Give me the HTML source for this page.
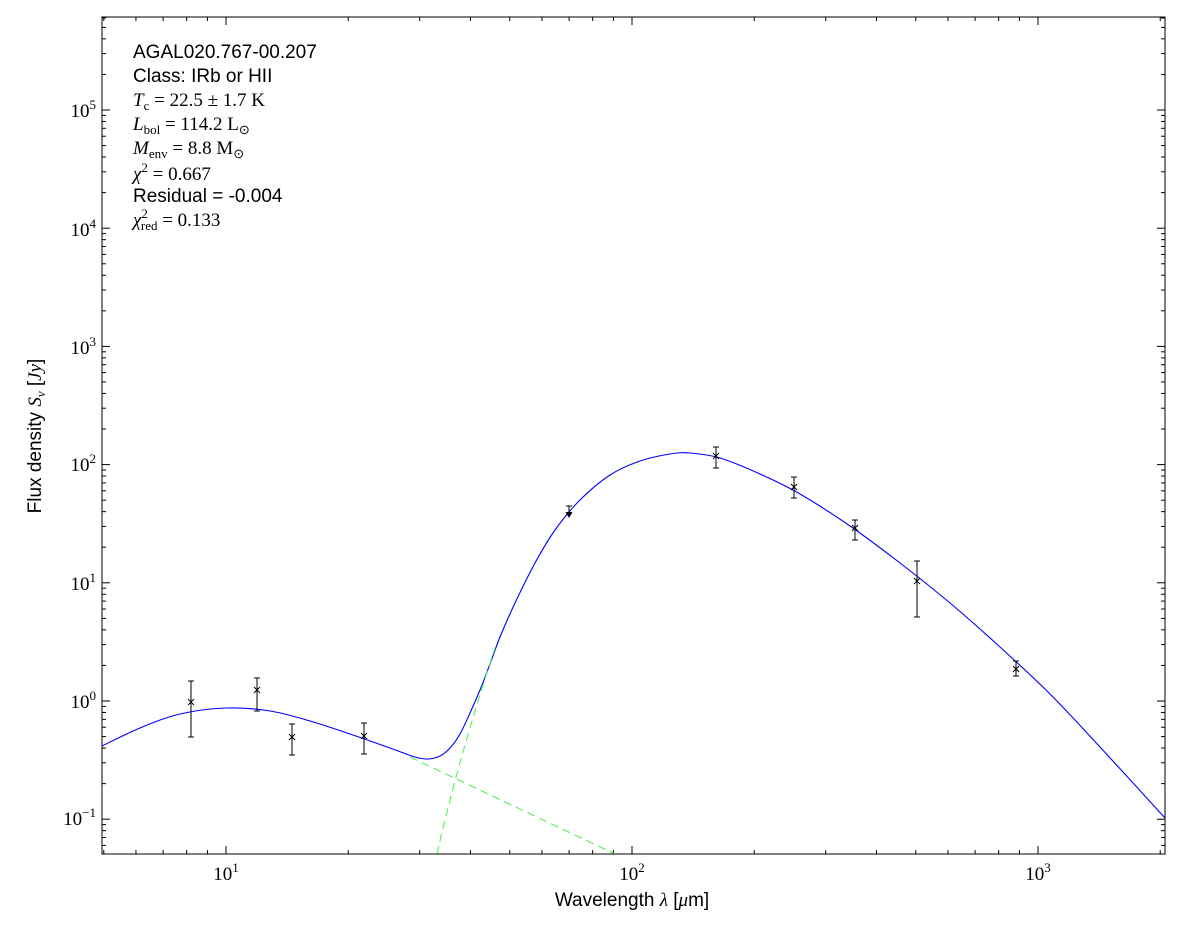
<!DOCTYPE html>
<html><head><meta charset="utf-8"><style>
body{margin:0;background:#fff;width:1200px;height:933px;overflow:hidden}
text{font-family:"Liberation Sans",sans-serif;fill:#000}
.s{font-family:"Liberation Serif",serif}
</style></head><body>
<svg id="c" width="1200" height="933" xmlns="http://www.w3.org/2000/svg">
<rect x="0" y="0" width="1200" height="933" fill="#fff"/>
<g id="ticks" stroke="#000" stroke-width="1"></g>
<path id="blue" fill="none" stroke="#0000ff" stroke-width="1.1"/>
<path d="M410,757 L615,854" stroke="#55ee55" stroke-width="1.1" stroke-dasharray="8,5" fill="none"/>
<path d="M437,854 Q458,760 495,648" stroke="#55ee55" stroke-width="1.1" stroke-dasharray="8,5" fill="none"/>
<g id="pts" stroke="#000" stroke-width="1" fill="none"></g>
<rect x="102" y="17" width="1063" height="837" fill="none" stroke="#000" stroke-width="1"/>
<g font-size="19">
<text x="226" y="880" class="s" text-anchor="middle">10<tspan dy="-8" font-size="13">1</tspan></text>
<text x="632" y="880" class="s" text-anchor="middle">10<tspan dy="-8" font-size="13">2</tspan></text>
<text x="1038" y="880" class="s" text-anchor="middle">10<tspan dy="-8" font-size="13">3</tspan></text>
</g>
<g font-size="19" class="s" text-anchor="end">
<text x="96" y="117" class="s">10<tspan dy="-8" font-size="13">5</tspan></text>
<text x="96" y="236" class="s">10<tspan dy="-8" font-size="13">4</tspan></text>
<text x="96" y="354" class="s">10<tspan dy="-8" font-size="13">3</tspan></text>
<text x="96" y="471" class="s">10<tspan dy="-8" font-size="13">2</tspan></text>
<text x="96" y="590" class="s">10<tspan dy="-8" font-size="13">1</tspan></text>
<text x="96" y="708" class="s">10<tspan dy="-8" font-size="13">0</tspan></text>
<text x="96" y="825" class="s">10<tspan dy="-8" font-size="13">−1</tspan></text>
</g>
<text x="632" y="906" font-size="19" text-anchor="middle">Wavelength <tspan class="s" font-style="italic">λ</tspan> [<tspan class="s" font-style="italic">μ</tspan>m]</text>
<text transform="translate(41,436) rotate(-90)" font-size="19" text-anchor="middle">Flux density <tspan class="s" font-style="italic">S<tspan font-size="13" dy="4">ν</tspan></tspan><tspan dy="-4"> [</tspan><tspan class="s" font-style="italic">Jy</tspan>]</text>
<g font-size="19">
<text x="133" y="58">AGAL020.767-00.207</text>
<text x="133" y="82">Class: IRb or HII</text>
<text x="133" y="106" class="s"><tspan font-style="italic">T</tspan><tspan font-size="13" dy="4">c</tspan><tspan dy="-4"> = 22.5 ± 1.7 K</tspan></text>
<text x="133" y="130" class="s"><tspan font-style="italic">L</tspan><tspan font-size="13" dy="4">bol</tspan><tspan dy="-4"> = 114.2 L</tspan><tspan font-size="13" dy="4">⊙</tspan></text>
<text x="133" y="154" class="s"><tspan font-style="italic">M</tspan><tspan font-size="13" dy="4">env</tspan><tspan dy="-4"> = 8.8 M</tspan><tspan font-size="13" dy="4">⊙</tspan></text>
<text x="133" y="180" class="s"><tspan font-style="italic">χ</tspan><tspan font-size="13" dy="-8">2</tspan><tspan dy="8"> = 0.667</tspan></text>
<text x="133" y="202">Residual = -0.004</text>
<text x="133" y="226" class="s"><tspan font-style="italic">χ</tspan><tspan font-size="13" dy="-8">2</tspan><tspan font-size="13" dx="-7" dy="12">red</tspan><tspan dy="-4"> = 0.133</tspan></text>
</g>
</svg>
<script>
var ns="http://www.w3.org/2000/svg";
function el(p,t,a){var e=document.createElementNS(ns,t);for(var k in a)e.setAttribute(k,a[k]);p.appendChild(e);return e;}
var T=document.getElementById('ticks');
function X(v){return 226+406*(Math.log10(v)-1);}
function Y(v){return 701-118.2*Math.log10(v);}
for(var d=0;d<=3;d++)for(var m=1;m<10;m++){var v=m*Math.pow(10,d);var x=X(v);if(x<102||x>1165)continue;var L=m==1?8:4;
el(T,'line',{x1:x,y1:854,x2:x,y2:854-L});el(T,'line',{x1:x,y1:17,x2:x,y2:17+L});}
for(var d=-2;d<=5;d++)for(var m=1;m<10;m++){var v=m*Math.pow(10,d);var y=Y(v);if(y<17||y>854)continue;var L=m==1?8:4;
el(T,'line',{x1:102,y1:y,x2:102+L,y2:y});el(T,'line',{x1:1165,y1:y,x2:1165-L,y2:y});}
var b=[[102,746],[140,728],[180,714],[226,708],[270,711],[310,721],[350,734],[390,748],[415,757],[428,759],[440,756],[450,748],[460,734],[470,713],[480,690],[490,664],[500,637],[515,603],[535,563],[555,530],[580,500],[610,475],[640,461],[670,454],[690,453],[720,458],[760,474],[800,494],[850,526],[900,563],[950,603],[1000,647],[1050,694],[1100,747],[1165,818]];
var p="M"+b[0];
for(var i=0;i<b.length-1;i++){var p0=b[Math.max(0,i-1)],p1=b[i],p2=b[i+1],p3=b[Math.min(b.length-1,i+2)];
var c1=[p1[0]+(p2[0]-p0[0])/6,p1[1]+(p2[1]-p0[1])/6],c2=[p2[0]-(p3[0]-p1[0])/6,p2[1]-(p3[1]-p1[1])/6];
p+=" C"+c1+" "+c2+" "+p2;}
document.getElementById('blue').setAttribute('d',p);
var P=document.getElementById('pts');
var d=[[191,702,681,737],[257,690,678,711],[292,737,724,755],[364,736,723,754],[716,456,447,468],[794,487,477,498],[855,528,520,540],[917,581,561,617],[1016,669,661,676]];
d.forEach(function(q){el(P,'line',{x1:q[0],y1:q[2],x2:q[0],y2:q[3]});el(P,'line',{x1:q[0]-3,y1:q[2],x2:q[0]+3,y2:q[2]});el(P,'line',{x1:q[0]-3,y1:q[3],x2:q[0]+3,y2:q[3]});
el(P,'line',{x1:q[0]-3,y1:q[1]-3,x2:q[0]+3,y2:q[1]+3});el(P,'line',{x1:q[0]-3,y1:q[1]+3,x2:q[0]+3,y2:q[1]-3});});
el(P,'line',{x1:569,y1:506,x2:569,y2:517});el(P,'line',{x1:566,y1:506,x2:572,y2:506});
el(P,'path',{d:"M566,512 L569,517 L572,512",fill:"#000"});
</script>
</body></html>
